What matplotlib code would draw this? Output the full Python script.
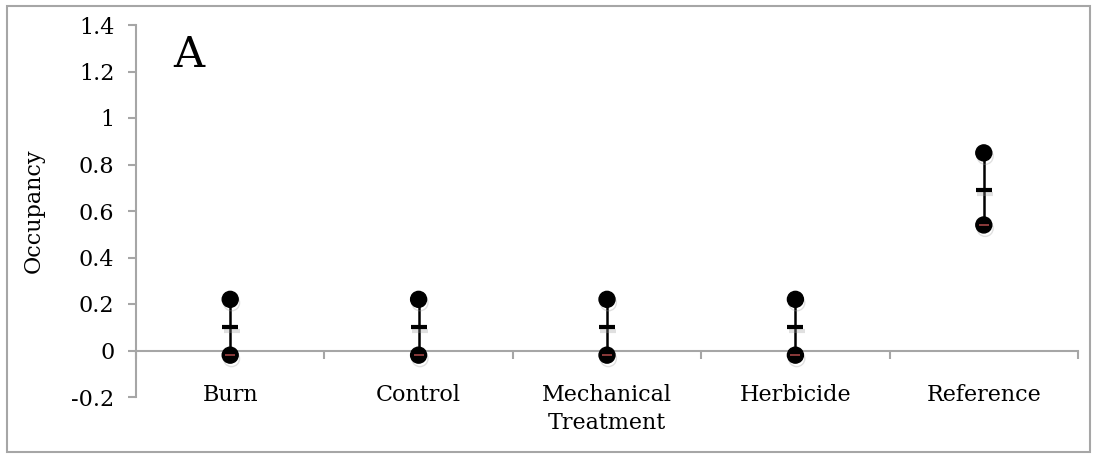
import matplotlib
matplotlib.use("Agg")
import matplotlib.pyplot as plt
import matplotlib.patheffects as pe
from matplotlib.patches import Rectangle
import numpy as np

# Occupancy estimates per treatment (high / close / low)
treatments = ["Burn", "Control", "Mechanical", "Herbicide", "Reference"]
high = [0.22, 0.22, 0.22, 0.22, 0.85]
close = [0.10, 0.10, 0.10, 0.10, 0.69]
low = [-0.02, -0.02, -0.02, -0.02, 0.54]
y_ticks = [-0.2, 0, 0.2, 0.4, 0.6, 0.8, 1, 1.2, 1.4]
y_tick_labels = ["-0.2", "0", "0.2", "0.4", "0.6", "0.8", "1", "1.2", "1.4"]

FS = 16
plt.rcParams["font.family"] = ["DejaVu Serif"]
plt.rcParams["xtick.labelsize"] = FS
plt.rcParams["ytick.labelsize"] = FS

W, H = 1096, 454
fig = plt.figure(figsize=(W / 100, H / 100), dpi=100)
ax = fig.add_axes([136 / W, 1 - 397 / H, (1078 - 136) / W, (397 - 25) / H])

axis_gray = "#a6a6a6"
x = np.arange(len(treatments))

shadow = [pe.SimpleLineShadow(offset=(1.0, -2.5), shadow_color="#999999", alpha=0.3),
          pe.Normal()]

ax.vlines(x, low, high, color="black", lw=1.8, zorder=3)
ax.plot(x, high, "o", color="black", ms=11.5, ls="none", zorder=4, path_effects=shadow)
ax.plot(x, low, "o", color="black", ms=11.5, ls="none", zorder=4, path_effects=shadow)
ax.plot(x, low, marker="_", color="#8b3a3a", ms=7, mew=1.4, ls="none", zorder=5)
ax.plot(x, close, marker="_", color="black", ms=11.5, mew=3, ls="none", zorder=4,
        path_effects=shadow)

ax.set_xlim(-0.5, len(treatments) - 0.5)
ax.set_ylim(-0.2, 1.4)

ax.set_yticks(y_ticks)
ax.set_yticklabels(y_tick_labels)
ax.set_xticks(x)
ax.set_xticklabels(treatments)
ax.set_xticks(np.arange(-0.5, len(treatments)), minor=True)

for side in ("top", "right"):
    ax.spines[side].set_visible(False)
ax.spines["bottom"].set_position(("data", 0))
for side in ("left", "bottom"):
    ax.spines[side].set_color(axis_gray)
    ax.spines[side].set_linewidth(1.5)

ax.tick_params(axis="y", direction="out", length=6, width=1.5, color=axis_gray,
               pad=9.5, labelcolor="black")
ax.tick_params(axis="x", which="major", length=0, pad=24, labelcolor="black")
ax.tick_params(axis="x", which="minor", direction="out", length=6, width=1.5,
               color=axis_gray)

ax.set_ylabel("Occupancy", fontsize=FS)
ax.yaxis.set_label_coords(-0.0966, 0.5)
ax.set_xlabel("Treatment", fontsize=FS)
ax.xaxis.set_label_coords(0.5, -0.040)

ax.text(-0.22, 1.27, "A", fontsize=31, ha="center", va="center")

fig.patches.append(Rectangle((7 / W, 2 / H), (1090 - 7) / W, (452 - 6) / H,
                             transform=fig.transFigure, fill=False,
                             edgecolor=axis_gray, lw=1.5))

fig.savefig("out.png", dpi=100)
